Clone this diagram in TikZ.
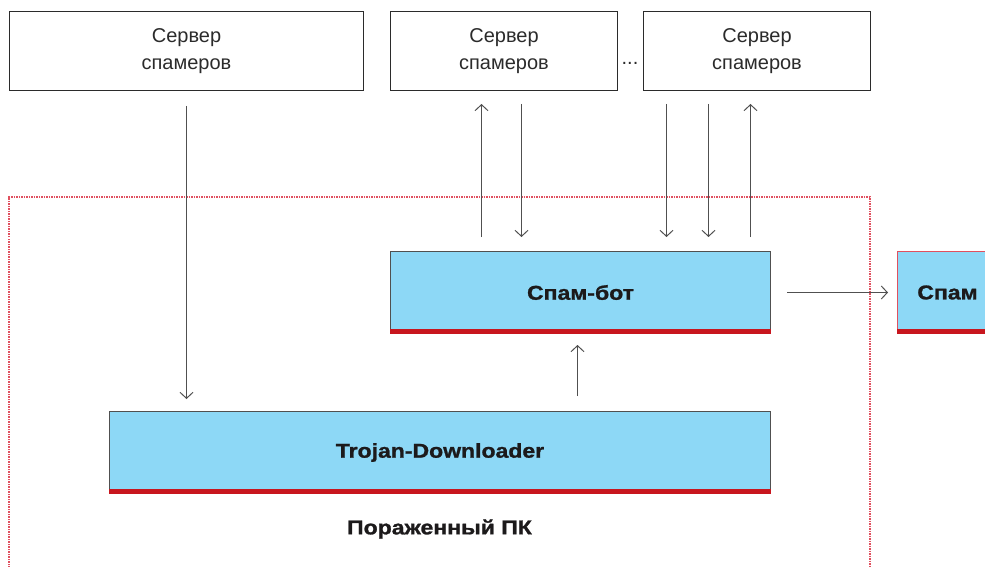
\documentclass[tikz,border=0pt]{standalone}
\usepackage{fontspec}
\setmainfont{Liberation Sans}
\newfontfamily\heavyfont[FakeStretch=1.15,FakeBold=1.2]{Liberation Sans}
\usetikzlibrary{arrows.meta}
\definecolor{boxblue}{HTML}{8DD8F6}
\definecolor{barred}{HTML}{C8161E}
\definecolor{dotred}{HTML}{E0505F}
\definecolor{txtgray}{HTML}{2B2B2B}
\definecolor{txtblack}{HTML}{1C1A1B}
\definecolor{arrgray}{HTML}{505050}

\begin{document}
\begin{tikzpicture}[x=1pt,y=-1pt,
  server/.style={draw=txtgray,line width=1pt,minimum height=79pt,anchor=north west,
    inner sep=0pt,align=center,text=txtgray,font=\fontsize{20}{27}\selectfont},
  bluebox/.style={draw=arrgray,fill=boxblue,line width=1pt,minimum height=82pt,anchor=north west,
    inner sep=0pt,text=txtblack,font=\heavyfont\bfseries\fontsize{20}{24}\selectfont},
  arr/.style={draw=arrgray,line width=1pt,-{Straight Barb[length=6pt,width=13pt]}},
  frame/.style={draw=dotred,line width=1.2pt,dash pattern=on 1.5pt off 1pt}]
\useasboundingbox (0,0) rectangle (985,567);
\clip (0,0) rectangle (985,567);

\node[server,minimum width=354pt] (srv1) at (9,11) {Сервер\\спамеров};
\node[server,minimum width=227pt] (srv2) at (390,11) {Сервер\\спамеров};
\node[server,minimum width=227pt] (srv3) at (643,11) {Сервер\\спамеров};
\node[text=txtgray,font=\fontsize{20}{24}\selectfont] (dots) at (630,63) {...};

\draw[frame] (9,580) -- (9,197) -- (870,197) -- (870,580);

\node[bluebox,minimum width=380pt] (bot) at (390,251) {Спам-бот};
\node[bluebox,draw=dotred,minimum width=100pt] (spam) at (897,251) {Спам};
\node[bluebox,minimum width=661pt] (trj) at (109,411) {Trojan-Downloader};
\foreach \b in {bot,spam,trj} \fill[barred] (\b.south west) rectangle ([yshift=5pt]\b.south east);

\node[text=txtblack,font=\heavyfont\bfseries\fontsize{20}{24}\selectfont] (pc) at (439.5,529) {Пораженный ПК};

\draw[arr,shorten <=15pt,shorten >=12pt] (srv1.south) -- (srv1.south |- trj.north);
\draw[arr,shorten <=15pt,shorten >=11pt] ([xshift=-3pt]bot.south |- trj.north) -- ([xshift=-3pt]bot.south);
\draw[arr,shorten <=16pt,shorten >=9pt] (bot) -- (spam);

\draw[arr,shorten <=14pt,shorten >=13pt] ([xshift=-22.5pt]srv2.south |- bot.north) -- ([xshift=-22.5pt]srv2.south);
\draw[arr,shorten <=13pt,shorten >=14pt] ([xshift=17.5pt]srv2.south) -- ([xshift=17.5pt]srv2.south |- bot.north);
\foreach \dx in {-90.5,-48.5}
  \draw[arr,shorten <=13pt,shorten >=14pt] ([xshift=\dx pt]srv3.south) -- ([xshift=\dx pt]srv3.south |- bot.north);
\draw[arr,shorten <=14pt,shorten >=13pt] ([xshift=-6.5pt]srv3.south |- bot.north) -- ([xshift=-6.5pt]srv3.south);

\end{tikzpicture}
\end{document}
